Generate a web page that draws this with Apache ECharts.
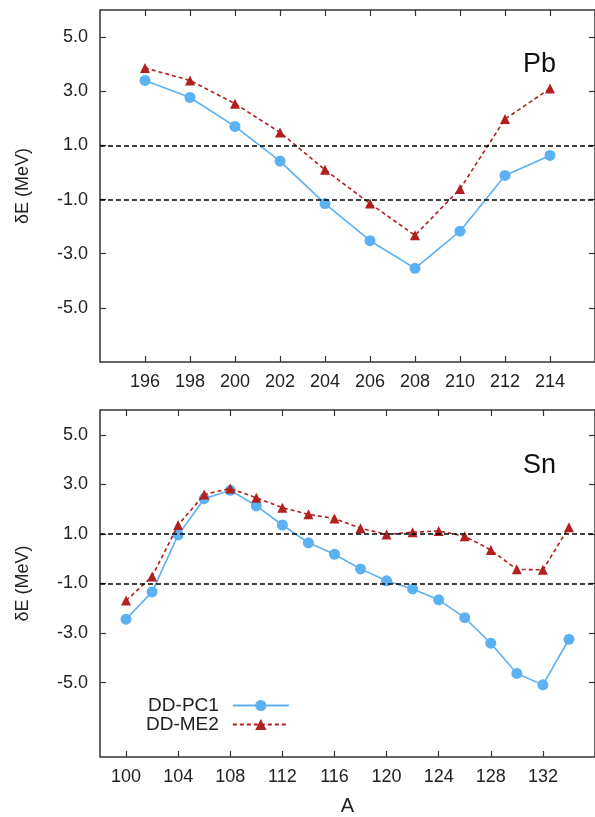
<!DOCTYPE html>
<html><head><meta charset="utf-8">
<script src="https://cdn.jsdelivr.net/npm/echarts@6/dist/echarts.min.js"></script>
<style>html,body{margin:0;padding:0;background:#fff}#c{width:595px;height:817px}</style>
</head><body><div id="c"></div>
<script>
// ---- data ----
const pbA   = [196,198,200,202,204,206,208,210,212,214];
const pbPC1 = [3.40,2.77,1.70,0.42,-1.15,-2.52,-3.54,-2.17,-0.11,0.63];
const pbME2 = [3.86,3.40,2.54,1.48,0.10,-1.15,-2.32,-0.61,1.97,3.10];
const snA   = [100,102,104,106,108,110,112,114,116,118,120,122,124,126,128,130,132,134];
const snPC1 = [-2.44,-1.34,0.96,2.42,2.76,2.13,1.36,0.64,0.18,-0.41,-0.89,-1.22,-1.66,-2.38,-3.41,-4.63,-5.09,-3.25];
const snME2 = [-1.69,-0.72,1.36,2.59,2.83,2.46,2.06,1.79,1.62,1.23,0.98,1.07,1.12,0.91,0.35,-0.43,-0.45,1.27];
const yTicks   = [-5,-3,-1,1,3,5];
const pbXTicks = [196,198,200,202,204,206,208,210,212,214];
const snXTicks = [100,104,108,112,116,120,124,128,132];
const refLines = [1,-1];
const names = ['DD-PC1','DD-ME2'];
const panelLabels = ['Pb','Sn'];

// ---- style ----
const FONT = '"Liberation Sans", Arial, sans-serif';
const TXT = '#222';
const BLUE = '#5cb1f2';
const RED = '#b21f1f';
const pair = (xs, ys) => xs.map((x, i) => [x, ys[i]]);

function xAx(grid, min, max, ticks, pos, showLabel, extra) {
  return Object.assign({
    type: 'value', gridIndex: grid, min, max, position: pos,
    axisLine: {show: false, onZero: false},
    splitLine: {show: false},
    axisTick: {show: true, inside: true, length: 6, customValues: ticks, lineStyle: {color: '#333', width: 1.2}},
    axisLabel: {show: showLabel, customValues: ticks, fontSize: 18, color: TXT, fontFamily: FONT, margin: 11}
  }, extra || {});
}
function yAx(grid, min, max, pos, showLabel, extra) {
  return Object.assign({
    type: 'value', gridIndex: grid, min, max, position: pos,
    axisLine: {show: false, onZero: false},
    splitLine: {show: false},
    axisTick: {show: true, inside: true, length: 6, customValues: yTicks, lineStyle: {color: '#333', width: 1.2}},
    axisLabel: {show: showLabel, customValues: yTicks, fontSize: 18, color: TXT, fontFamily: FONT, margin: 12,
      formatter: v => v.toFixed(1)}
  }, extra || {});
}
const yName = {name: 'δE (MeV)', nameLocation: 'middle', nameGap: 68, nameRotate: 90,
  nameTextStyle: {fontSize: 18, color: TXT, fontFamily: FONT}};

function ref(lines) {
  return {
    silent: true, symbol: 'none', label: {show: false},
    lineStyle: {color: '#000', type: [5, 3], width: 1.5},
    data: lines.map(v => ({yAxis: v}))
  };
}
function series(name, grid, xs, ys, withRef) {
  const pc = name === names[0];
  const s = {
    name, type: 'line', xAxisIndex: grid * 2, yAxisIndex: grid * 2,
    data: pair(xs, ys),
    symbol: pc ? 'circle' : 'triangle',
    symbolSize: pc ? 11 : 10,
    showAllSymbol: true,
    itemStyle: {color: pc ? BLUE : RED},
    lineStyle: {color: pc ? BLUE : RED, width: 1.6, type: pc ? 'solid' : [4, 3]},
    z: pc ? 3 : 4
  };
  if (withRef) s.markLine = ref(refLines);
  return s;
}

const chart = echarts.init(document.getElementById('c'), null, {renderer: 'canvas'});
chart.setOption({
  animation: false,
  backgroundColor: '#fff',
  grid: [
    {left: 100, top: 10, right: -1, height: 352, show: true, borderColor: '#333', borderWidth: 1.5, backgroundColor: 'transparent'},
    {left: 100, top: 410, right: -1, height: 353, show: true, borderColor: '#333', borderWidth: 1.5, backgroundColor: 'transparent'}
  ],
  xAxis: [
    xAx(0, 194, 216, pbXTicks, 'bottom', true),
    xAx(0, 194, 216, pbXTicks, 'top', false),
    xAx(1, 98, 136, snXTicks, 'bottom', true, {name: 'A', nameLocation: 'middle', nameGap: 39,
      nameTextStyle: {fontSize: 20, color: TXT, fontFamily: FONT}}),
    xAx(1, 98, 136, snXTicks, 'top', false)
  ],
  yAxis: [
    yAx(0, -7, 6, 'left', true, yName),
    yAx(0, -7, 6, 'right', false),
    yAx(1, -8, 6, 'left', true, yName),
    yAx(1, -8, 6, 'right', false)
  ],
  legend: {
    data: names, orient: 'vertical', left: 141, top: 691, align: 'right',
    itemWidth: 56, itemHeight: 14, itemGap: 0,
    textStyle: {fontSize: 19, color: TXT, fontFamily: FONT, width: 76, align: 'right', padding: [0, 9, 0, 0]}
  },
  graphic: [
    {type: 'text', left: 523, top: 51, style: {text: panelLabels[0], fontSize: 27, fill: '#111', fontFamily: FONT}},
    {type: 'text', left: 523, top: 452, style: {text: panelLabels[1], fontSize: 27, fill: '#111', fontFamily: FONT}}
  ],
  series: [
    series(names[0], 0, pbA, pbPC1, true),
    series(names[1], 0, pbA, pbME2, false),
    series(names[0], 1, snA, snPC1, true),
    series(names[1], 1, snA, snME2, false)
  ]
});
</script></body></html>
